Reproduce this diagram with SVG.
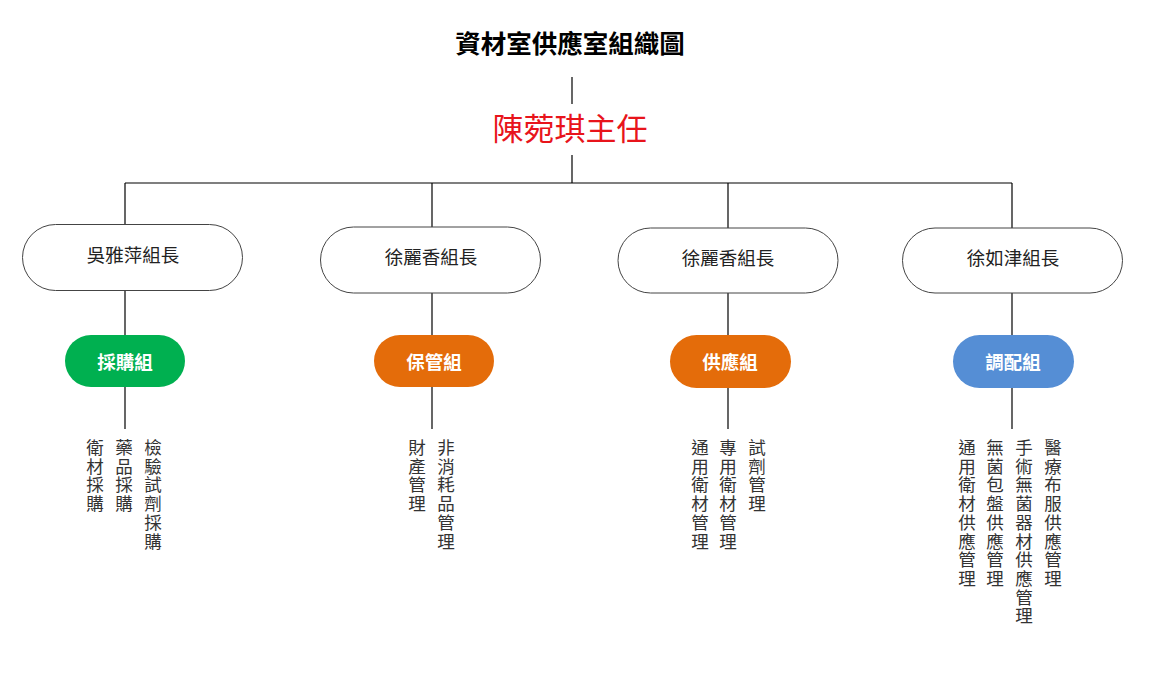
<svg xmlns="http://www.w3.org/2000/svg" width="1159" height="673" viewBox="0 0 1159 673">
<style>
text{font-family:"Noto Sans CJK TC","Noto Sans CJK SC",sans-serif;}
.title{font-size:25.5px;font-weight:bold;fill:#000;text-anchor:middle;}
.head{font-size:31px;fill:#E8141B;text-anchor:middle;}
.lead rect{fill:#fff;stroke:#444;stroke-width:1;}
.lead text{font-size:18.5px;fill:#222;text-anchor:middle;}
.grp text{font-size:18.5px;font-weight:bold;fill:#fff;text-anchor:middle;}
.task text{font-size:17.5px;fill:#333;text-anchor:middle;}
.conn line{stroke:#000;stroke-width:1.2;}
</style>
<rect width="1159" height="673" fill="#fff"/>
<g id="connectors" class="conn">
<line x1="572" y1="77" x2="572" y2="104"/>
<line x1="572" y1="155" x2="572" y2="183"/>
<line x1="125" y1="183" x2="1012" y2="183"/>
<line x1="125" y1="183" x2="125" y2="225"/>
<line x1="432" y1="183" x2="432" y2="227"/>
<line x1="728" y1="183" x2="728" y2="228"/>
<line x1="1012" y1="183" x2="1012" y2="228"/>
<line x1="125" y1="291" x2="125" y2="335"/>
<line x1="432" y1="293" x2="432" y2="335"/>
<line x1="728" y1="293" x2="728" y2="335"/>
<line x1="1012" y1="293" x2="1012" y2="335"/>
<line x1="125" y1="387" x2="125" y2="429"/>
<line x1="432" y1="387" x2="432" y2="429"/>
<line x1="728" y1="388" x2="728" y2="429"/>
<line x1="1012" y1="388" x2="1012" y2="429"/>
</g>
<g id="title"><text class="title" x="570" y="53">資材室供應室組織圖</text></g>
<g id="director"><text class="head" x="570" y="140">陳菀琪主任</text></g>
<g id="lead1" class="lead"><rect x="22.5" y="224.5" width="220" height="66" rx="33"/><text x="133" y="262">吳雅萍組長</text></g>
<g id="lead2" class="lead"><rect x="320.5" y="227" width="220" height="66" rx="33"/><text x="431" y="264">徐麗香組長</text></g>
<g id="lead3" class="lead"><rect x="618" y="228" width="220" height="65" rx="32.5"/><text x="728" y="265">徐麗香組長</text></g>
<g id="lead4" class="lead"><rect x="902.5" y="228" width="220" height="65" rx="32.5"/><text x="1013" y="265">徐如津組長</text></g>
<g id="grp1" class="grp"><rect x="65" y="335" width="120" height="52" rx="26" fill="#00B050"/><text x="125" y="369">採購組</text></g>
<g id="grp2" class="grp"><rect x="374" y="335" width="120" height="52" rx="26" fill="#E46C0A"/><text x="434" y="369">保管組</text></g>
<g id="grp3" class="grp"><rect x="670" y="335" width="121" height="53" rx="26.5" fill="#E46C0A"/><text x="730" y="369">供應組</text></g>
<g id="grp4" class="grp"><rect x="953" y="335" width="121" height="53" rx="26.5" fill="#558ED5"/><text x="1013" y="369">調配組</text></g>
<g id="tasks1" class="task">
<text x="95" y="454"><tspan x="95">衛</tspan><tspan x="95" dy="18.7">材</tspan><tspan x="95" dy="18.7">採</tspan><tspan x="95" dy="18.7">購</tspan></text>
<text x="124" y="454"><tspan x="124">藥</tspan><tspan x="124" dy="18.7">品</tspan><tspan x="124" dy="18.7">採</tspan><tspan x="124" dy="18.7">購</tspan></text>
<text x="153" y="454"><tspan x="153">檢</tspan><tspan x="153" dy="18.7">驗</tspan><tspan x="153" dy="18.7">試</tspan><tspan x="153" dy="18.7">劑</tspan><tspan x="153" dy="18.7">採</tspan><tspan x="153" dy="18.7">購</tspan></text>
</g>
<g id="tasks2" class="task">
<text x="417" y="454"><tspan x="417">財</tspan><tspan x="417" dy="18.7">產</tspan><tspan x="417" dy="18.7">管</tspan><tspan x="417" dy="18.7">理</tspan></text>
<text x="446" y="454"><tspan x="446">非</tspan><tspan x="446" dy="18.7">消</tspan><tspan x="446" dy="18.7">耗</tspan><tspan x="446" dy="18.7">品</tspan><tspan x="446" dy="18.7">管</tspan><tspan x="446" dy="18.7">理</tspan></text>
</g>
<g id="tasks3" class="task">
<text x="700" y="454"><tspan x="700">通</tspan><tspan x="700" dy="18.7">用</tspan><tspan x="700" dy="18.7">衛</tspan><tspan x="700" dy="18.7">材</tspan><tspan x="700" dy="18.7">管</tspan><tspan x="700" dy="18.7">理</tspan></text>
<text x="728" y="454"><tspan x="728">專</tspan><tspan x="728" dy="18.7">用</tspan><tspan x="728" dy="18.7">衛</tspan><tspan x="728" dy="18.7">材</tspan><tspan x="728" dy="18.7">管</tspan><tspan x="728" dy="18.7">理</tspan></text>
<text x="757" y="454"><tspan x="757">試</tspan><tspan x="757" dy="18.7">劑</tspan><tspan x="757" dy="18.7">管</tspan><tspan x="757" dy="18.7">理</tspan></text>
</g>
<g id="tasks4" class="task">
<text x="967" y="454"><tspan x="967">通</tspan><tspan x="967" dy="18.7">用</tspan><tspan x="967" dy="18.7">衛</tspan><tspan x="967" dy="18.7">材</tspan><tspan x="967" dy="18.7">供</tspan><tspan x="967" dy="18.7">應</tspan><tspan x="967" dy="18.7">管</tspan><tspan x="967" dy="18.7">理</tspan></text>
<text x="995" y="454"><tspan x="995">無</tspan><tspan x="995" dy="18.7">菌</tspan><tspan x="995" dy="18.7">包</tspan><tspan x="995" dy="18.7">盤</tspan><tspan x="995" dy="18.7">供</tspan><tspan x="995" dy="18.7">應</tspan><tspan x="995" dy="18.7">管</tspan><tspan x="995" dy="18.7">理</tspan></text>
<text x="1024" y="454"><tspan x="1024">手</tspan><tspan x="1024" dy="18.7">術</tspan><tspan x="1024" dy="18.7">無</tspan><tspan x="1024" dy="18.7">菌</tspan><tspan x="1024" dy="18.7">器</tspan><tspan x="1024" dy="18.7">材</tspan><tspan x="1024" dy="18.7">供</tspan><tspan x="1024" dy="18.7">應</tspan><tspan x="1024" dy="18.7">管</tspan><tspan x="1024" dy="18.7">理</tspan></text>
<text x="1053" y="454"><tspan x="1053">醫</tspan><tspan x="1053" dy="18.7">療</tspan><tspan x="1053" dy="18.7">布</tspan><tspan x="1053" dy="18.7">服</tspan><tspan x="1053" dy="18.7">供</tspan><tspan x="1053" dy="18.7">應</tspan><tspan x="1053" dy="18.7">管</tspan><tspan x="1053" dy="18.7">理</tspan></text>
</g>
</svg>
